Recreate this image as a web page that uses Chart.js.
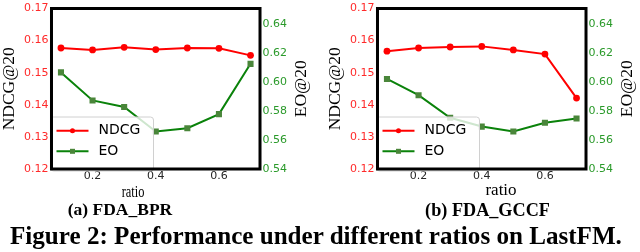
<!DOCTYPE html>
<html><head><meta charset="utf-8">
<script src="https://cdn.jsdelivr.net/npm/chart.js@4/dist/chart.umd.min.js"></script>
<style>
html,body{margin:0;padding:0;background:#fff;overflow:hidden;}
#wrap{position:relative;width:640px;height:252px;overflow:hidden;}
canvas{position:absolute;top:0;}
.t{position:absolute;white-space:nowrap;font-family:"Liberation Serif",serif;color:#000;line-height:1;}
</style></head><body>
<div id="wrap">
<canvas id="c1" width="320" height="200" style="left:0px"></canvas>
<canvas id="c2" width="320" height="200" style="left:326px"></canvas>
<div class="t" id="xl1" style="font-size:17px;left:83px;width:100px;text-align:center;top:182.8px;transform:scaleX(0.73);">ratio</div>
<div class="t" id="xl2" style="font-size:17px;left:451px;width:100px;text-align:center;top:180.8px;">ratio</div>
<div class="t" style="font-size:17.5px;font-weight:bold;left:20px;width:200px;text-align:center;top:201.3px;">(a) FDA_BPR</div>
<div class="t" style="font-size:18.2px;font-weight:bold;left:387.5px;width:200px;text-align:center;top:200.5px;">(b) FDA_GCCF</div>
<div class="t" style="font-size:25.1px;font-weight:bold;left:10px;top:223.3px;">Figure 2: Performance under different ratios on LastFM.</div>
</div>
<script>
// ---- data ----
const ratios = [0.1, 0.2, 0.3, 0.4, 0.5, 0.6, 0.7];
const bprNdcg = [0.1577, 0.1571, 0.1579, 0.1572, 0.1577, 0.1576, 0.1554];
const bprEo = [0.6065, 0.5872, 0.5827, 0.5658, 0.5681, 0.5778, 0.6124];
const gccfNdcg = [0.1567, 0.1577, 0.1580, 0.1582, 0.1571, 0.1558, 0.1421];
const gccfEo = [0.6020, 0.5908, 0.5753, 0.5692, 0.5658, 0.5719, 0.5748];
const xTicks = [0.2, 0.4, 0.6];
const ndcgTicks = [0.12, 0.13, 0.14, 0.15, 0.16, 0.17];
const eoTicks = [0.54, 0.56, 0.58, 0.60, 0.62, 0.64];
const seriesLabels = ['NDCG', 'EO'];
const leftTitle = 'NDCG@20';
const rightTitle = 'EO@20';

const RED = '#ff0000', GREEN = '#0a820a', SQ = '#4a863a';
const LBL_RED = '#ff2a2a', LBL_GREEN = '#2a9a2a';

const insideLegend = {
  id: 'insideLegend',
  afterDatasetsDraw(chart) {
    const {ctx, chartArea: a} = chart;
    ctx.save();
    const bx = a.left - 1, by = a.bottom - 52, bw = 103, bh = 54;
    ctx.beginPath();
    if (ctx.roundRect) ctx.roundRect(bx, by, bw, bh, 3); else ctx.rect(bx, by, bw, bh);
    ctx.fillStyle = 'rgba(255,255,255,0.8)';
    ctx.fill();
    ctx.strokeStyle = '#d0d0d0';
    ctx.lineWidth = 1;
    ctx.stroke();
    const rows = [38.3, 17.7];
    chart.data.datasets.forEach((ds, i) => {
      const cy = a.bottom - rows[i];
      ctx.strokeStyle = ds.borderColor;
      ctx.lineWidth = 2;
      ctx.beginPath();
      ctx.moveTo(a.left + 5, cy);
      ctx.lineTo(a.left + 37, cy);
      ctx.stroke();
      ctx.fillStyle = ds.pointBackgroundColor;
      if (ds.pointStyle === 'rect') {
        ctx.fillRect(a.left + 21 - 2.5, cy - 2.5, 5, 5);
      } else {
        ctx.beginPath();
        ctx.arc(a.left + 21, cy, 2.5, 0, Math.PI * 2);
        ctx.fill();
      }
      ctx.fillStyle = '#000';
      ctx.font = '14px "DejaVu Sans"';
      ctx.textBaseline = 'middle';
      ctx.textAlign = 'left';
      ctx.fillText(ds.label, a.left + 47, cy);
    });
    ctx.restore();
  },
  afterDraw(chart) {
    const {ctx, chartArea: a} = chart;
    ctx.save();
    // frame
    ctx.strokeStyle = '#000';
    ctx.lineWidth = 3;
    ctx.strokeRect(a.left, a.top, a.right - a.left, a.bottom - a.top);
    // right axis title (reads bottom-to-top)
    const s = chart.scales.y1;
    ctx.translate(s.right + 11.5, (a.top + a.bottom) / 2);
    ctx.rotate(-Math.PI / 2);
    ctx.font = '17.5px "Liberation Serif"';
    ctx.fillStyle = '#000';
    ctx.textAlign = 'center';
    ctx.textBaseline = 'middle';
    ctx.fillText(rightTitle, 0, 0);
    ctx.restore();
  }
};

function makeChart(id, ndcg, eo) {
  return new Chart(document.getElementById(id), {
    type: 'line',
    data: {
      datasets: [
        {label: seriesLabels[0], data: ratios.map((r, i) => ({x: r, y: ndcg[i]})), yAxisID: 'y',
         borderColor: RED, backgroundColor: RED, pointBackgroundColor: RED, pointBorderColor: RED,
         borderWidth: 2, pointRadius: 3.4, pointBorderWidth: 0, pointStyle: 'circle', tension: 0},
        {label: seriesLabels[1], data: ratios.map((r, i) => ({x: r, y: eo[i]})), yAxisID: 'y1',
         borderColor: GREEN, backgroundColor: SQ, pointBackgroundColor: SQ, pointBorderColor: SQ,
         borderWidth: 2, pointRadius: 4.3, pointBorderWidth: 0, pointStyle: 'rect', tension: 0}
      ]
    },
    options: {
      responsive: false, animation: false, devicePixelRatio: 1,
      layout: {padding: {left: 0, right: 30.5, top: 6, bottom: 15.8}},
      plugins: {legend: {display: false}, tooltip: {enabled: false}},
      scales: {
        x: {type: 'linear', min: 0.07, max: 0.73,
            afterBuildTicks: s => { s.ticks = xTicks.map(v => ({value: v})); },
            grid: {display: false, drawTicks: false}, border: {display: false},
            ticks: {padding: 1, maxRotation: 0, color: '#262626', font: {family: 'DejaVu Sans', size: 11},
                    callback: v => v.toFixed(1)}},
        y: {position: 'left', min: 0.12, max: 0.17,
            afterBuildTicks: s => { s.ticks = ndcgTicks.map(v => ({value: v})); },
            grid: {display: false, drawTicks: false}, border: {display: false},
            ticks: {padding: 3, color: LBL_RED, font: {family: 'DejaVu Sans', size: 11, lineHeight: 1},
                    callback: v => v.toFixed(2)},
            title: {display: true, text: leftTitle, color: '#000', padding: {top: 0.5, bottom: 3},
                    font: {family: 'Liberation Serif', size: 17.5, lineHeight: 1}}},
        y1: {position: 'right', min: 0.54, max: 0.6505,
            afterBuildTicks: s => { s.ticks = eoTicks.map(v => ({value: v})); },
            grid: {display: false, drawTicks: false}, border: {display: false},
            ticks: {padding: 2.5, color: LBL_GREEN, font: {family: 'DejaVu Sans', size: 11, lineHeight: 1},
                    callback: v => v.toFixed(2)}}
      }
    },
    plugins: [insideLegend]
  });
}
const c1 = makeChart('c1', bprNdcg, bprEo);
const c2 = makeChart('c2', gccfNdcg, gccfEo);
</script>
</body></html>
